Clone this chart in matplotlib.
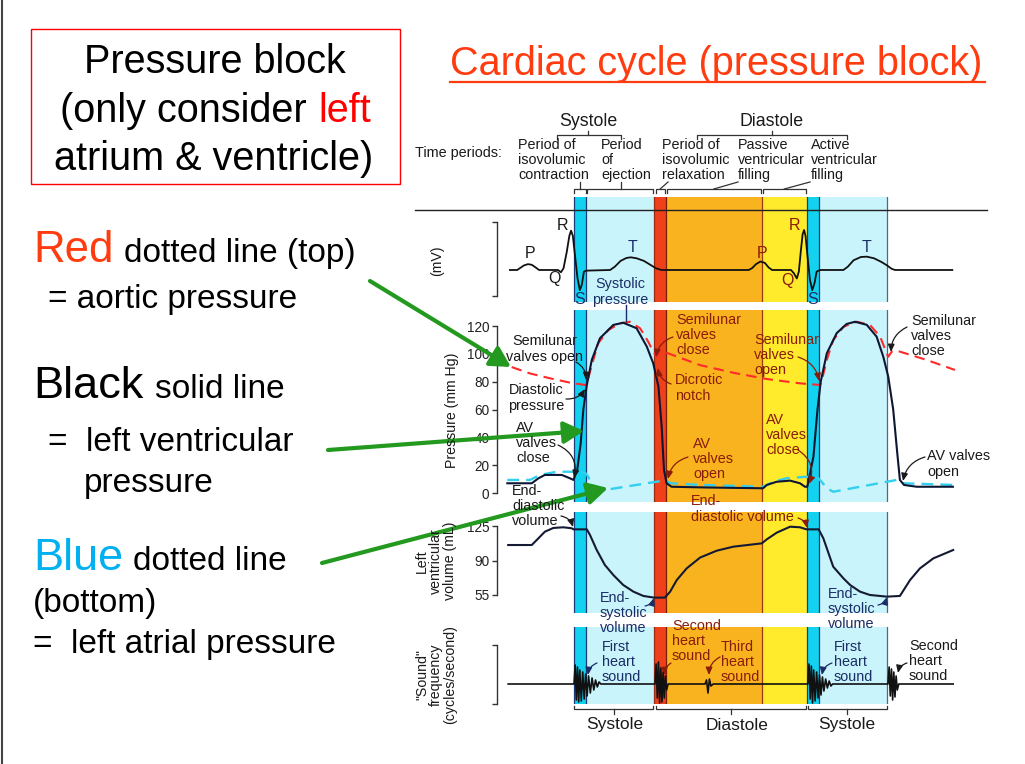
import matplotlib
matplotlib.use("Agg")
import matplotlib.pyplot as plt
from matplotlib.patches import Rectangle

plt.rcParams['font.family'] = ['Liberation Sans', 'DejaVu Sans']

W, H = 1025, 764

# ---- shared time axis (seconds) ----
band_edges = [0.0, 0.04, 0.275, 0.315, 0.645, 0.80, 0.84, 1.075]
band_colors = ['#12d2f0', '#c9f4fb', '#ef401c', '#f8b31e', '#ffea2c', '#12d2f0', '#c9f4fb']
edge_lines = {0.0: '#1b3c7a', 0.04: '#1b3c7a', 0.275: '#9a2a10', 0.315: '#7a1c08',
              0.645: '#9a3a10', 0.80: '#1b3c7a', 0.84: '#1b3c7a', 1.075: '#4a6a8a'}

# ECG (mV)
ecg_t = [-0.220, -0.195, -0.185, -0.172, -0.158, -0.145, -0.132, -0.120, -0.055, -0.045,
         -0.036, -0.025, -0.016, -0.010, -0.004, 0.004, 0.012, 0.020, 0.027, 0.034, 0.042,
         0.124, 0.140, 0.160, 0.180, 0.195, 0.215, 0.240, 0.262, 0.282, 0.300,
         0.600, 0.612, 0.625, 0.640, 0.655, 0.668, 0.680, 0.745, 0.755, 0.765, 0.772,
         0.779, 0.785, 0.790, 0.795, 0.802, 0.810, 0.818, 0.826, 0.833, 0.845,
         0.925, 0.940, 0.960, 0.985, 1.005, 1.030, 1.055, 1.075, 1.090, 1.102, 1.299]
ecg_mv = [0, 0, 0.06, 0.14, 0.18, 0.16, 0.08, 0, 0, -0.07,
          0.05, 0.55, 1.05, 1.21, 1.05, 0.40, -0.25, -0.62, -0.45, -0.05, -0.02,
          0, 0.10, 0.28, 0.37, 0.39, 0.36, 0.28, 0.16, 0.05, 0,
          0, 0.06, 0.18, 0.26, 0.22, 0.08, 0, 0, -0.10, -0.26, -0.05,
          0.60, 1.10, 1.23, 1.05, 0.40, -0.30, -0.62, -0.40, -0.05, 0,
          0, 0.10, 0.30, 0.40, 0.41, 0.36, 0.25, 0.14, 0.04, 0, 0]

# left ventricular pressure (mm Hg)
lv_t = [-0.229, -0.145, -0.122, -0.100, -0.042, -0.014, -0.002, 0.011, 0.023, 0.032, 0.044,
        0.061, 0.089, 0.135, 0.169, 0.215, 0.250, 0.272, 0.290, 0.301, 0.309, 0.318, 0.335,
        0.450, 0.649, 0.662, 0.696, 0.742, 0.776, 0.793, 0.801, 0.822, 0.836, 0.847, 0.868,
        0.902, 0.936, 0.965, 1.005, 1.039, 1.062, 1.079, 1.096, 1.110, 1.119, 1.133, 1.177, 1.301]
lv_p = [7, 7, 10.6, 13, 13, 10.6, 9.4, 16.5, 35.7, 60, 77.7,
        95.7, 111.3, 120.9, 122.5, 118.5, 105.3, 93.3, 76.5, 47.7, 16.5, 7, 4.5,
        4.0, 3.4, 5.8, 8.1, 8.9, 7, 4.5, 4.5, 26, 60, 80, 100.5,
        115, 121.6, 123.2, 121, 112.5, 98, 83.7, 60, 28.5, 9.4, 5.8, 4.5, 4.5]

# aortic pressure (mm Hg)
ao_t = [-0.214, -0.151, -0.082, -0.014, 0.038, 0.049, 0.061, 0.083, 0.118, 0.158, 0.192,
        0.227, 0.255, 0.272, 0.284, 0.295, 0.307, 0.433, 0.547, 0.662, 0.776, 0.845, 0.854,
        0.868, 0.890, 0.925, 0.971, 1.016, 1.051, 1.074, 1.079, 1.091, 1.108, 1.211, 1.308]
ao_p = [90.6, 86, 82.5, 79.4, 77.7, 82.5, 92, 107.7, 117.3, 122, 123.2,
        118.5, 108.8, 101.7, 98, 101, 101.7, 92, 86.5, 82, 78.9, 77.7, 83.7,
        95.7, 110, 119.6, 123.2, 121, 112.5, 100.5, 98, 101.7, 102.4, 95.7, 88.5]

# left atrial pressure (mm Hg)
la_t = [-0.229, -0.151, -0.117, -0.059, -0.014, 0.038, 0.049, 0.061, 0.106, 0.307, 0.335,
        0.433, 0.650, 0.684, 0.730, 0.798, 0.839, 0.850, 0.868, 0.890, 1.108, 1.131, 1.302]
la_p = [9.4, 9.4, 13, 15.3, 15.3, 14.6, 11.7, 5.8, 2.2, 8.9, 7,
        5.8, 4.5, 8.1, 10.6, 11.7, 10.6, 8.1, 3.4, 0.9, 9.4, 7, 5.8]

# left ventricular volume (mL)
vol_t = [-0.226, -0.145, -0.128, -0.100, -0.071, -0.037, -0.008, -0.002, 0.044, 0.055, 0.078,
         0.106, 0.135, 0.169, 0.204, 0.238, 0.275, 0.312, 0.330, 0.353, 0.387, 0.433, 0.490,
         0.547, 0.645, 0.662, 0.696, 0.742, 0.776, 0.798, 0.840, 0.856, 0.890, 0.925, 0.948,
         0.982, 1.016, 1.074, 1.119, 1.154, 1.188, 1.234, 1.302]
vol_ml = [106, 106, 111.1, 119.6, 123.4, 124.1, 123.1, 122, 122, 116.2, 100.9,
          85.6, 75.4, 65.2, 58.4, 54, 52.3, 52.3, 58.4, 70.3, 82.2, 93.2, 100.2,
          104.3, 107.7, 111.8, 118.6, 124.7, 124.1, 122, 122, 112.9, 83.9, 72, 65.2,
          58.4, 55, 53.3, 54, 70.3, 82.2, 92.4, 100.9]

# heart sounds (arbitrary amplitude)
snd_t = [-0.226, 0.000, 0.004, 0.008, 0.012, 0.016, 0.020, 0.025, 0.030, 0.035, 0.040,
         0.045, 0.050, 0.056, 0.062, 0.068, 0.074, 0.080, 0.086, 0.092,
         0.278, 0.282, 0.286, 0.290, 0.294, 0.298, 0.302, 0.306, 0.310, 0.314, 0.318, 0.323,
         0.450, 0.455, 0.460, 0.465, 0.470, 0.478,
         0.803, 0.807, 0.811, 0.815, 0.819, 0.823, 0.828, 0.833, 0.838, 0.843, 0.848, 0.853,
         0.858, 0.864, 0.870, 0.876, 0.882, 0.888,
         1.078, 1.082, 1.086, 1.090, 1.094, 1.098, 1.102, 1.106, 1.110, 1.115, 1.302]
snd_a = [0, 0, 19, -16, 17, -18, 14, -17, 12, -15, 10,
         -12, 8, -9, 6, -6, 4, -3, 2, 0,
         0, 20, -14, 22, -19, 16, -18, 12, -14, 8, -6, 0,
         0, 4, -9, 5, -2, 0,
         0, 20, -15, 18, -19, 14, -17, 12, -14, 9, -11, 7,
         -7, 5, -4, 3, -2, 0,
         0, 17, -12, 15, -16, 12, -13, 8, -6, 0, 0]

# ---- layout helpers (pixel geometry of the slide) ----
X0, X1 = 497, 990
T_LEFT, T_RIGHT = (X0 - 574) / 291.25, (X1 - 574) / 291.25


def px(t):
    return 574 + t * 291.25


fig = plt.figure(figsize=(W / 100, H / 100), dpi=100)
fig.patch.set_facecolor('white')


def panel(y_top, y_bot, ylim):
    ax = fig.add_axes([X0 / W, 1 - y_bot / H, (X1 - X0) / W, (y_bot - y_top) / H], zorder=1)
    ax.set_xlim(T_LEFT, T_RIGHT)
    ax.set_ylim(*ylim)
    ax.patch.set_alpha(0)
    for s in ['top', 'right', 'bottom']:
        ax.spines[s].set_visible(False)
    ax.spines['left'].set_color('#333333')
    ax.spines['left'].set_linewidth(1.0)
    ax.set_xticks([])
    ax.tick_params(axis='y', direction='out', length=3.5, width=1.0, color='#333333',
                   labelsize=9.8, pad=2, labelcolor='#222222')
    for a, b, c in zip(band_edges[:-1], band_edges[1:], band_colors):
        ax.axvspan(a, b, color=c, lw=0, zorder=0)
    for t, c in edge_lines.items():
        ax.axvline(t, color=c, lw=0.9, zorder=0.5)
    return ax


# ECG
ax_ecg = panel(197, 302, (-0.985, 2.246))
ax_ecg.plot(ecg_t, ecg_mv, color='#111111', lw=1.3, zorder=3)
ax_ecg.spines['left'].set_bounds(-0.8, 1.48)
ax_ecg.set_yticks([-0.8, 1.48])
ax_ecg.set_yticklabels([])

# pressures
ax_p = panel(310, 502, (-6.47, 131.65))
ax_p.plot(ao_t, ao_p, color='#ff2a2a', lw=1.5, dashes=(5, 3), zorder=3)
ax_p.plot(la_t, la_p, color='#33cfee', lw=1.7, dashes=(5, 3), zorder=3)
ax_p.plot(lv_t, lv_p, color='#0e1633', lw=1.5, zorder=4)
ax_p.spines['left'].set_bounds(0, 120)
ax_p.set_yticks(range(0, 121, 20))

# volume
ax_v = panel(512, 613, (36.6, 139.7))
ax_v.plot(vol_t, vol_ml, color='#141a33', lw=1.5, zorder=3)
ax_v.spines['left'].set_bounds(55, 125)
ax_v.set_yticks([55, 90, 125])

# sounds
ax_s = panel(627, 704, (-20, 57))
ax_s.plot(snd_t, snd_a, color='#111111', lw=1.2, zorder=3)
ax_s.spines['left'].set_bounds(-20, 39)
ax_s.set_yticks([-20, 39])
ax_s.set_yticklabels([])

# ---- overlay in slide pixels ----
ov = fig.add_axes([0, 0, 1, 1], zorder=10)
ov.set_xlim(0, W)
ov.set_ylim(H, 0)
ov.axis('off')
ov.patch.set_alpha(0)

ov.plot([1.5, 1.5], [0, H], color='#444444', lw=1.5)

# box top-left
big = 28.5
ov.add_patch(Rectangle((31, 29), 369, 155, fill=False, ec='#ff0000', lw=1))
ov.text(215, 73, 'Pressure block', ha='center', va='baseline', fontsize=big)
ov.text(60, 122, '(only consider', ha='left', va='baseline', fontsize=big)
ov.text(318, 122, 'left', ha='left', va='baseline', fontsize=big, color='#ff0000')
ov.text(214, 170, 'atrium & ventricle)', ha='center', va='baseline', fontsize=big)

# title
title_red = '#ff3c10'
ov.text(450, 75, 'Cardiac cycle (pressure block)', ha='left', va='baseline',
        fontsize=28.5, color=title_red)
ov.plot([450, 985], [82, 82], color=title_red, lw=1.6)

# left explanations
mid = 24
ov.text(33, 262, 'Red', fontsize=31.5, color=title_red, va='baseline')
ov.text(124, 262, 'dotted line (top)', fontsize=mid, va='baseline')
ov.text(48, 308, '= aortic pressure', fontsize=mid, va='baseline')
ov.text(33, 398, 'Black', fontsize=32.5, va='baseline')
ov.text(155, 398, 'solid line', fontsize=mid, va='baseline')
ov.text(48, 451, '=  left ventricular', fontsize=mid, va='baseline')
ov.text(84, 492, 'pressure', fontsize=mid, va='baseline')
ov.text(33, 570, 'Blue', fontsize=32.5, color='#00b0f0', va='baseline')
ov.text(133, 570, 'dotted line', fontsize=mid, va='baseline')
ov.text(33, 612, '(bottom)', fontsize=mid, va='baseline')
ov.text(33, 653, '=  left atrial pressure', fontsize=mid, va='baseline')

green = '#23991f'
for (xa, ya), (xb, yb) in [((370, 281), (511, 367)), ((328, 450), (584, 431)),
                           ((322, 563), (608, 488))]:
    ov.annotate('', xy=(xb, yb), xytext=(xa, ya),
                arrowprops=dict(arrowstyle='-|>,head_length=0.55,head_width=0.3',
                                color=green, lw=3, mutation_scale=22,
                                shrinkA=0, shrinkB=0))

# horizontal line across top of the diagram
ov.plot([415, 987], [210, 210], color='#222222', lw=1.0)

ink = '#1a1a1a'
navy = '#1b2d66'
dred = '#8a1c0a'
fs = 10.4
lsp = 1.1


def bracket(xa, xb, y, end_dy, mid_dy, xm=None):
    xm = (xa + xb) / 2 if xm is None else xm
    ov.plot([xa, xa, xb, xb], [y + end_dy, y, y, y + end_dy], color='#333333', lw=0.9)
    ov.plot([xm, xm], [y, y + mid_dy], color='#333333', lw=0.9)


# top Systole / Diastole
ov.text(588, 122, 'Systole', ha='center', va='center', fontsize=12.8, color=ink)
ov.text(772, 122, 'Diastole', ha='center', va='center', fontsize=12.8, color=ink)
bracket(557, 621, 135, 3.5, -4, xm=588)
bracket(697, 847, 135, 3.5, -4, xm=772)

ov.text(415, 153, 'Time periods:', ha='left', va='center', fontsize=fs, color=ink)
periods = [('Period of\nisovolumic\ncontraction', 518),
           ('Period\nof\nejection', 601),
           ('Period of\nisovolumic\nrelaxation', 662),
           ('Passive\nventricular\nfilling', 738),
           ('Active\nventricular\nfilling', 811)]
for txt, x in periods:
    ov.text(x, 160, txt, ha='left', va='center', fontsize=fs, color=ink,
            linespacing=lsp, multialignment='left')

yb = 189
bracket(px(0.0), px(0.04), yb, 3.5, -7)
bracket(px(0.046), px(0.272), yb, 3.5, -7, xm=621)
bracket(px(0.28), px(0.312), yb, 3.5, 0)
bracket(px(0.318), px(0.643), yb, 3.5, 0)
bracket(px(0.648), px(0.797), yb, 3.5, 0)
ov.plot([px(0.296), 668], [yb, 182], color='#333333', lw=0.9)
ov.plot([px(0.48), 738], [yb, 182], color='#333333', lw=0.9)
ov.plot([px(0.722), 810], [yb, 182], color='#333333', lw=0.9)

# bottom Systole / Diastole
bracket(px(0.0), px(0.272), 708.5, -3, 5)
bracket(px(0.28), px(0.797), 708.5, -3, 5)
bracket(px(0.803), px(1.075), 708.5, -3, 5)
ov.text(615, 725, 'Systole', ha='center', va='center', fontsize=12.5, color=ink)
ov.text(737, 725, 'Diastole', ha='center', va='center', fontsize=12.5, color=ink)
ov.text(847, 725, 'Systole', ha='center', va='center', fontsize=12.5, color=ink)

# axis labels
yl = 10.2
ov.text(437, 261, '(mV)', rotation=90, ha='center', va='center', fontsize=yl, color=ink)
ov.text(452, 410, 'Pressure (mm Hg)', rotation=90, ha='center', va='center', fontsize=yl,
        color=ink)
ov.text(436, 561, 'Left\nventricular\nvolume (mL)', rotation=90, ha='center', va='center',
        fontsize=yl, color=ink, linespacing=1.0, multialignment='center')
ov.text(436, 675, '"Sound"\nfrequency\n(cycles/second)', rotation=90, ha='center',
        va='center', fontsize=yl, color=ink, linespacing=1.0, multialignment='center')

# ECG letters
for s, x, y, c in [('P', 530, 254, ink), ('Q', 554, 279, ink), ('R', 563, 225, ink),
                   ('S', 580, 300, navy), ('T', 632, 247, navy),
                   ('P', 762, 253, dred), ('Q', 787, 280, dred), ('R', 795, 226, dred),
                   ('S', 813, 300, navy), ('T', 866, 247, navy)]:
    ov.text(x, y, s, ha='center', va='center', fontsize=11.5, color=c)

labels = [
    ('Systolic\npressure', 620, 292, 'center', navy),
    ('Semilunar\nvalves open', 545, 349, 'center', ink),
    ('Diastolic\npressure', 536, 398, 'center', ink),
    ('AV\nvalves\nclose', 516, 443, 'left', ink),
    ('End-\ndiastolic\nvolume', 512, 506, 'left', ink),
    ('Semilunar\nvalves\nclose', 676, 335, 'left', dred),
    ('Dicrotic\nnotch', 675, 388, 'left', dred),
    ('AV\nvalves\nopen', 693, 459, 'left', dred),
    ('Semilunar\nvalves\nopen', 754, 355, 'left', dred),
    ('AV\nvalves\nclose', 766, 435, 'left', dred),
    ('Semilunar\nvalves\nclose', 911, 336, 'left', ink),
    ('AV valves\nopen', 927, 464, 'left', ink),
    ('End-\ndiastolic volume', 691, 509, 'left', dred),
    ('End-\nsystolic\nvolume', 600, 613, 'left', navy),
    ('End-\nsystolic\nvolume', 828, 609, 'left', navy),
    ('First\nheart\nsound', 602, 662, 'left', navy),
    ('Second\nheart\nsound', 672, 641, 'left', dred),
    ('Third\nheart\nsound', 721, 662, 'left', dred),
    ('First\nheart\nsound', 834, 662, 'left', navy),
    ('Second\nheart\nsound', 909, 661, 'left', ink),
]
for txt, x, y, ha, c in labels:
    ov.text(x, y, txt, ha=ha, va='center', fontsize=fs, color=c, linespacing=lsp,
            multialignment=ha)

ov.plot([626, 626], [305, 321], color=navy, lw=1.0)

leaders = [
    ((576, 362), (586, 380), -0.3, ink),
    ((566, 399), (585, 389), 0.3, ink),
    ((558, 445), (574, 478), -0.4, ink),
    ((561, 516), (573, 527), -0.3, ink),
    ((673, 337), (656, 357), 0.3, dred),
    ((671, 384), (658, 368), -0.3, dred),
    ((688, 457), (668, 479), 0.3, dred),
    ((798, 357), (819, 381), -0.3, dred),
    ((798, 450), (809, 484), -0.4, dred),
    ((907, 327), (891, 352), 0.3, ink),
    ((925, 457), (903, 481), 0.3, ink),
    ((798, 518), (807, 528), -0.3, dred),
    ((645, 606), (654, 598), 0.3, navy),
    ((878, 605), (887, 597), 0.3, navy),
    ((597, 663), (588, 675), 0.3, navy),
    ((671, 663), (665, 675), 0.3, dred),
    ((720, 657), (709, 675), 0.3, dred),
    ((832, 663), (822, 675), 0.3, navy),
    ((907, 663), (898, 673), 0.3, ink),
]
for (xa, ya), (xb, ybb), rad, c in leaders:
    ov.annotate('', xy=(xb, ybb), xytext=(xa, ya),
                arrowprops=dict(arrowstyle='-|>,head_length=0.5,head_width=0.22',
                                color=c, lw=0.9, mutation_scale=9,
                                connectionstyle='arc3,rad=%s' % rad,
                                shrinkA=0, shrinkB=0))

fig.savefig('out.png', dpi=100)
